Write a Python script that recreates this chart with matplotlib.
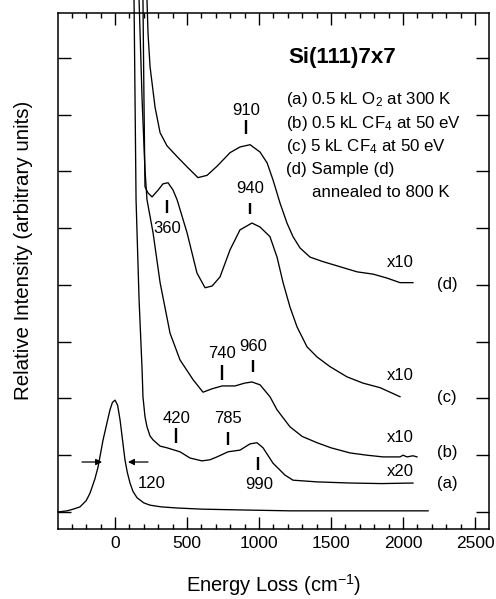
#EELS spectra of Si(111)7x7 after O2 / CF4 exposure, redrawn from the paper figure.
import matplotlib
matplotlib.use("Agg")
import matplotlib.pyplot as plt
from matplotlib.ticker import MultipleLocator

#elastic peak, x1
elastic_x = [-396, -333, -290, -243, -200, -174, -140, -118, -83, -55, -35, -18, 0, 18, 35, 52, 69, 85, 104, 125, 153, 200, 243, 320, 431, 600, 889, 1215, 1700, 2174]
elastic_y = [0.00, 0.02, 0.05, 0.09, 0.20, 0.33, 0.58, 0.79, 1.27, 1.58, 1.80, 1.93, 1.97, 1.88, 1.62, 1.27, 0.92, 0.70, 0.51, 0.36, 0.25, 0.16, 0.12, 0.09, 0.07, 0.05, 0.035, 0.02, 0.02, 0.02]

#(a) x20
a_x = [132, 146, 167, 188, 194, 208, 222, 243, 264, 313, 361, 451, 521, 604, 660, 708, 785, 868, 938, 986, 1028, 1097, 1180, 1236, 1403, 1632, 1850, 2069]
a_y = [9.02, 5.50, 3.74, 2.50, 2.03, 1.68, 1.50, 1.34, 1.27, 1.16, 1.13, 1.06, 0.95, 0.90, 0.92, 0.97, 1.06, 1.09, 1.20, 1.22, 1.13, 0.86, 0.65, 0.56, 0.53, 0.51, 0.50, 0.51]

#(b) x10
b_x = [167, 188, 208, 222, 264, 313, 382, 451, 542, 611, 674, 743, 833, 900, 951, 1007, 1076, 1125, 1215, 1300, 1403, 1500, 1632, 1750, 1861, 1979, 2000, 2028, 2069, 2097]
b_y = [9.02, 7.26, 6.03, 5.50, 4.92, 4.04, 3.15, 2.68, 2.33, 2.11, 2.17, 2.22, 2.22, 2.27, 2.29, 2.24, 2.03, 1.80, 1.50, 1.33, 1.22, 1.13, 1.04, 1.00, 0.97, 0.97, 1.00, 0.97, 0.99, 0.97]

#(c) x10
c_x = [194, 201, 208, 229, 257, 299, 333, 368, 403, 431, 500, 569, 625, 674, 729, 799, 868, 951, 1007, 1076, 1125, 1167, 1215, 1264, 1333, 1403, 1493, 1611, 1722, 1840, 1910, 1979]
c_y = [9.02, 7.26, 5.73, 5.62, 5.55, 5.67, 5.78, 5.80, 5.67, 5.50, 4.92, 4.21, 3.95, 3.98, 4.14, 4.62, 4.97, 5.09, 5.02, 4.85, 4.49, 4.04, 3.61, 3.26, 2.91, 2.73, 2.56, 2.38, 2.27, 2.19, 2.11, 2.03]

#(d) x10
d_x = [222, 229, 243, 257, 278, 313, 361, 431, 500, 576, 639, 708, 799, 868, 938, 1007, 1056, 1097, 1146, 1194, 1236, 1285, 1354, 1444, 1563, 1681, 1792, 1889, 1979, 2069]
d_y = [9.02, 8.44, 7.85, 7.56, 7.13, 6.68, 6.45, 6.26, 6.08, 5.89, 5.93, 6.09, 6.33, 6.43, 6.47, 6.34, 6.15, 5.85, 5.44, 5.09, 4.85, 4.65, 4.49, 4.41, 4.32, 4.23, 4.19, 4.12, 4.04, 4.04]

#feature labels: value, text y, bar top, bar bottom
peak_vals = [910, 360, 940, 740, 960, 420, 785, 990]
peak_text_y = [7.08, 5.00, 5.69, 2.80, 2.91, 1.64, 1.64, 0.49]
peak_bar_top = [6.91, 5.50, 5.44, 2.59, 2.68, 1.48, 1.41, 0.97]
peak_bar_bot = [6.66, 5.27, 5.25, 2.33, 2.47, 1.22, 1.18, 0.74]
peak_text_x = [910, 360, 940, 740, 960, 430, 785, 1000]

scale_labels = ["x10", "x10", "x10", "x20"]
scale_y = [4.39, 2.41, 1.32, 0.72]
curve_labels = ["(d)", "(c)", "(b)", "(a)"]
curve_label_y = [4.00, 2.01, 1.04, 0.51]

legend_lines = ["(a) 0.5 kL O$_2$ at 300 K", "(b) 0.5 kL CF$_4$ at 50 eV", "(c) 5 kL CF$_4$ at 50 eV", "(d) Sample (d)", "annealed to 800 K"]
legend_y = [7.26, 6.85, 6.43, 6.03, 5.62]

fwhm = 120

plt.rcParams["font.family"] = ["Liberation Sans", "DejaVu Sans"]
plt.rcParams["mathtext.fontset"] = "custom"
plt.rcParams["mathtext.rm"] = "Liberation Sans"
plt.rcParams["mathtext.it"] = "Liberation Sans:italic"
plt.rcParams["mathtext.bf"] = "Liberation Sans:bold"


def main():
	fig = plt.figure(figsize=(4.96, 5.99), dpi=100)
	ax = fig.add_axes([58/496, 70/599, 431/496, 516/599])

	for xs, ys in [(elastic_x, elastic_y), (a_x, a_y), (b_x, b_y), (c_x, c_y), (d_x, d_y)]:
		ax.plot(xs, ys, color="k", lw=0.95, clip_on=False, solid_joinstyle="round")

	#little bars + numbers for the loss features
	for v, tx, ty, t0, t1 in zip(peak_vals, peak_text_x, peak_text_y, peak_bar_top, peak_bar_bot):
		ax.plot([v, v], [t1, t0], color="k", lw=1.7, solid_capstyle="butt")
		ax.text(tx, ty, str(v), ha="center", va="center", fontsize=12)

	#FWHM arrows on the elastic peak
	ax.annotate("", xy=(-90, 0.88), xytext=(-229, 0.88),
		arrowprops=dict(arrowstyle="-|>", color="k", lw=0.9, mutation_scale=9, shrinkA=0, shrinkB=0))
	ax.annotate("", xy=(90, 0.88), xytext=(229, 0.88),
		arrowprops=dict(arrowstyle="-|>", color="k", lw=0.9, mutation_scale=9, shrinkA=0, shrinkB=0))
	ax.text(160, 0.51, str(fwhm), ha="left", va="center", fontsize=12)

	for s, sy in zip(scale_labels, scale_y):
		ax.text(1979, sy, s, ha="center", va="center", fontsize=12)
	for s, sy in zip(curve_labels, curve_label_y):
		ax.text(2306, sy, s, ha="center", va="center", fontsize=12)

	ax.text(1201, 8.0, "Si(111)7x7", ha="left", va="center", fontsize=16, fontweight="bold")
	for i, (s, ly) in enumerate(zip(legend_lines, legend_y)):
		lx = 1368 if i == 4 else 1187
		ax.text(lx, ly, s, ha="left", va="center", fontsize=12.2)

	ax.set_xlim(-396, 2597)
	ax.set_ylim(-0.30, 8.79)
	ax.xaxis.set_major_locator(MultipleLocator(500))
	ax.xaxis.set_minor_locator(MultipleLocator(100))
	ax.yaxis.set_major_locator(MultipleLocator(1))
	ax.set_yticklabels([])
	ax.tick_params(axis="x", which="major", direction="in", length=8.5, width=1, top=True, labelsize=12.5, pad=5)
	ax.tick_params(axis="x", which="minor", direction="in", length=3.5, width=1, top=True)
	ax.tick_params(axis="y", which="major", direction="in", length=9.5, width=1, right=True, labelleft=False)
	for sp in ax.spines.values():
		sp.set_linewidth(1.1)

	ax.set_xlabel("Energy Loss (cm$^{-1}$)", fontsize=14.5, labelpad=15)
	ax.set_ylabel("Relative Intensity (arbitrary units)", fontsize=14.8, va="center")
	ax.yaxis.set_label_coords(-0.081, 0.54)

	fig.savefig("out.png", dpi=100)


main()
